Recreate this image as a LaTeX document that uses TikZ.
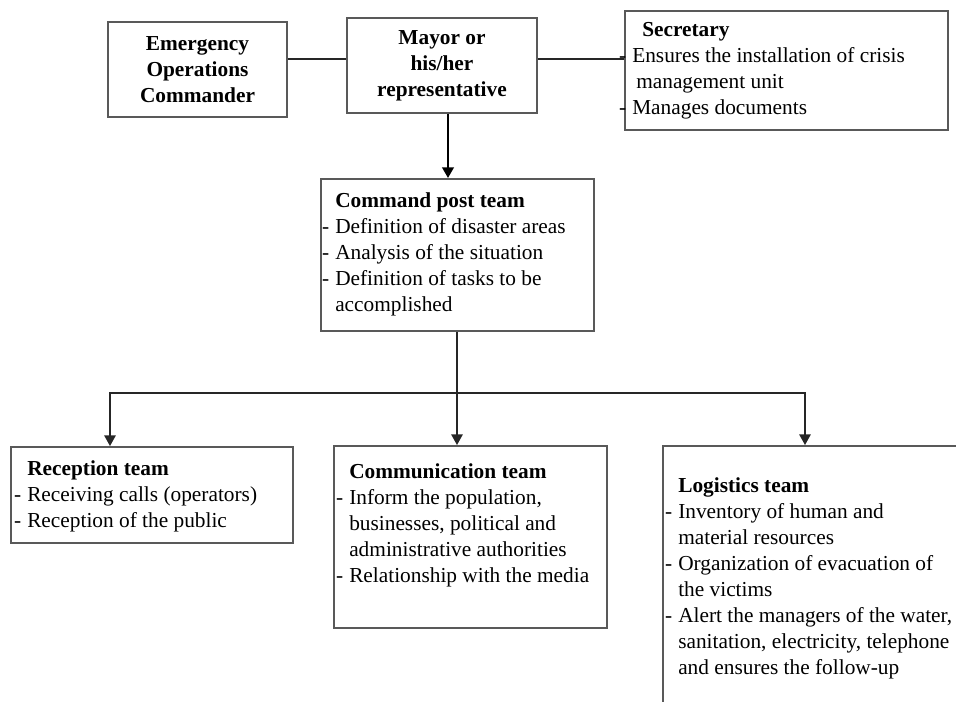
\documentclass[tikz,border=0pt]{standalone}
\usepackage{fontspec}
\setmainfont{Liberation Serif}
\usetikzlibrary{arrows.meta,fit}
% hanging dash placed in front of a list entry
\newcommand\dashitem{\llap{-\hspace{4.5pt}}}
\begin{document}
\begin{tikzpicture}[x=0.75pt,y=-0.75pt,
  box/.style={draw=black!65, line width=1.4pt, inner sep=0pt},
  txt/.style={inner sep=0pt, align=left, anchor=north west,
    font=\fontsize{16}{19.5}\selectfont},
  ctxt/.style={inner sep=0pt, align=center,
    font=\fontsize{16}{19.5}\selectfont\bfseries},
  link/.style={draw=black!85, line width=1.3pt},
  heavy/.style={draw=black, line width=2pt},
  tip/.style={-{Triangle[width=8.5pt,length=8pt]}},
]
\useasboundingbox (0,0) rectangle (956,702);

% boxes
\node[box, fit={(108,22) (287,117)}] (eoc) {};
\node[box, fit={(347,18) (537,113)}] (mayor) {};
\node[box, fit={(625,11) (948,130)}] (sec) {};
\node[box, fit={(321,179) (594,331)}] (cmd) {};
\node[box, fit={(11,447) (293,543)}] (rec) {};
\node[box, fit={(334,446) (607,628)}] (comm) {};
\node[box, fit={(663,446) (1000,760)}] (logi) {};

% texts
\node[ctxt] (eoc-t) at (eoc.center) {Emergency\\Operations\\Commander};
\node[ctxt] (mayor-t) at (442,66) {Mayor or\\his/her\\representative};
\node[txt] (sec-t) at (632,22.5) {\hspace{7.5pt}\textbf{Secretary}\\
  \dashitem Ensures the installation of crisis\\
  \hspace{3pt}management unit\\
  \dashitem Manages documents};
\node[txt] (cmd-t) at (335,192.5) {\textbf{Command post team}\\
  \dashitem Definition of disaster areas\\
  \dashitem Analysis of the situation\\
  \dashitem Definition of tasks to be\\
  accomplished};
\node[txt] (rec-t) at (27,460.5) {\textbf{Reception team}\\
  \dashitem Receiving calls (operators)\\
  \dashitem Reception of the public};
\node[txt] (comm-t) at (349,463.5) {\textbf{Communication team}\\
  \dashitem Inform the population,\\
  businesses, political and\\
  administrative authorities\\
  \dashitem Relationship with the media};
\node[txt] (logi-t) at (678,477.5) {\textbf{Logistics team}\\
  \dashitem Inventory of human and\\
  material resources\\
  \dashitem Organization of evacuation of\\
  the victims\\
  \dashitem Alert the managers of the water,\\
  sanitation, electricity, telephone\\
  and ensures the follow-up};

% connectors
\coordinate (tl) at (0,59);
\coordinate (mx) at (448,0);
\coordinate (cx) at (457,0);
\coordinate (bus) at (0,393);
\coordinate (busL) at (110,393);
\coordinate (busR) at (805,393);

\draw[link] (eoc.east |- tl) -- (mayor.west |- tl);
\draw[link] (mayor.east |- tl) -- (sec.west |- tl);
\draw[heavy, tip] (mayor.south -| mx) -- (cmd.north -| mx);
\draw[link, tip] (cmd.south -| cx) -- (comm.north -| cx);
\draw[link, tip] (cx |- bus) -- (busL) -- (rec.north -| busL);
\draw[link, tip] (cx |- bus) -- (busR) -- (logi.north -| busR);
\end{tikzpicture}
\end{document}
